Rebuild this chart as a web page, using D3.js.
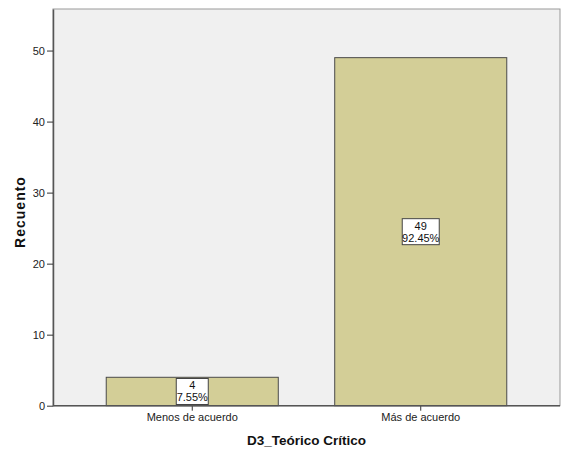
<!DOCTYPE html>
<html><head><meta charset="utf-8">
<script src="https://cdn.jsdelivr.net/npm/d3@7"></script>
<style>body{margin:0;background:#fff;}svg{display:block;font-family:"Liberation Sans",Arial,sans-serif;}</style>
</head><body>
<svg id="c" width="562" height="454"></svg>
<script>
const categories = ["Menos de acuerdo", "Más de acuerdo"];
const counts = [4, 49];
const percents = ["7.55%", "92.45%"];
const yTicks = [0, 10, 20, 30, 40, 50];
const xTitle = "D3_Teórico Crítico";
const yTitle = "Recuento";

const svg = d3.select("#c");
const L = 53, R = 560, T = 9, B = 405.7;
const x = d3.scaleBand().domain(categories).range([L, R]).paddingInner(0.247).paddingOuter(0.233);
const y = d3.scaleLinear().domain([0, 55.85]).range([B, T]);

svg.append("rect").attr("x", L).attr("y", T).attr("width", R - L).attr("height", B - T)
  .attr("fill", "#f0f0f0").attr("stroke", "#999").attr("stroke-width", 1);

const data = categories.map((c, i) => ({c, n: counts[i], p: percents[i]}));

svg.selectAll("rect.bar").data(data).enter().append("rect").attr("class", "bar")
  .attr("x", d => x(d.c)).attr("y", d => y(d.n))
  .attr("width", x.bandwidth()).attr("height", d => y(0) - y(d.n))
  .attr("fill", "#d3ce97").attr("stroke", "#4a4a4a").attr("stroke-width", 1);

// axes
const yAxis = svg.append("g").attr("transform", `translate(${L},0)`)
  .call(d3.axisLeft(y).tickValues(yTicks).tickSize(6).tickSizeOuter(0).tickPadding(2));
const xAxis = svg.append("g").attr("transform", `translate(0,${B})`)
  .call(d3.axisBottom(x).tickSize(5).tickSizeOuter(0).tickPadding(3));
[yAxis, xAxis].forEach(a => {
  a.select(".domain").attr("stroke", "#555").attr("stroke-width", 1.5);
  a.selectAll(".tick line").attr("stroke", "#333");
  a.selectAll(".tick text").attr("fill", "#222").style("font-size", "11px")
    .style("font-family", '"Liberation Sans",Arial,sans-serif');
});
xAxis.select(".domain").remove();
svg.append("line").attr("x1", L).attr("x2", R).attr("y1", B).attr("y2", B)
  .attr("stroke", "#555").attr("stroke-width", 1.5);

// labels
const lab = svg.selectAll("g.lab").data(data).enter().append("g").attr("class", "lab")
  .attr("transform", d => `translate(${x(d.c) + x.bandwidth() / 2},${(y(d.n) + y(0)) / 2})`);
lab.append("rect")
  .attr("x", d => d.p.length > 5 ? -18.5 : -16).attr("y", -13)
  .attr("width", d => d.p.length > 5 ? 37 : 32).attr("height", 26)
  .attr("fill", "#fff").attr("stroke", "#444").attr("stroke-width", 1);
lab.append("text").attr("text-anchor", "middle").attr("y", -2)
  .style("font-size", "11px").attr("fill", "#111").text(d => d.n);
lab.append("text").attr("text-anchor", "middle").attr("y", 10)
  .style("font-size", "11px").attr("fill", "#111").text(d => d.p);

svg.append("text").attr("x", (L + R) / 2).attr("y", 445).attr("text-anchor", "middle")
  .style("font-size", "13.5px").style("font-weight", "bold").attr("fill", "#111").text(xTitle);
svg.append("text").attr("transform", "translate(25,212) rotate(-90)").attr("text-anchor", "middle")
  .style("font-size", "14px").style("letter-spacing", "1px").style("font-weight", "bold").attr("fill", "#111").text(yTitle);
</script>
</body></html>
